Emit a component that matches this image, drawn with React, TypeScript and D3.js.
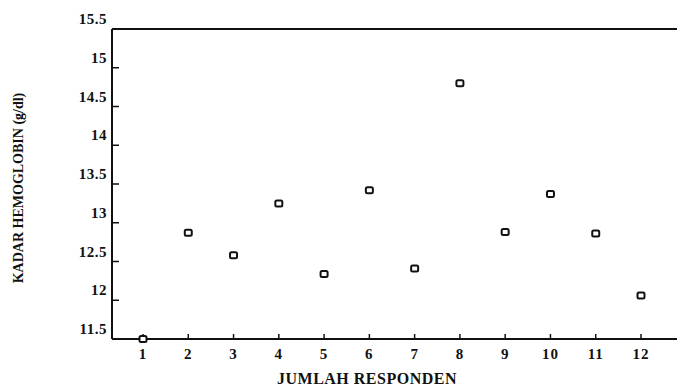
import * as d3 from 'd3'
import { useEffect, useRef } from 'react'

const responden = [1, 2, 3, 4, 5, 6, 7, 8, 9, 10, 11, 12]
const hemoglobin = [11.5, 12.87, 12.58, 13.25, 12.34, 13.42, 12.41, 14.8, 12.88, 13.37, 12.86, 12.06]
const yTicks = [11.5, 12, 12.5, 13, 13.5, 14, 14.5, 15, 15.5]

const App = () => {
    const ref = useRef<SVGSVGElement>(null)

    useEffect(() => {
        const width = 677
        const height = 390
        const left = 112
        const top = 29
        const bottom = 339

        const svg = d3.select(ref.current)
        svg.selectAll('*').remove()
        svg.attr('width', width).attr('height', height)

        const x = d3.scaleLinear().domain([1, 12]).range([143, 641])
        const y = d3.scaleLinear().domain([11.5, 15.5]).range([bottom, top])

        const font = '"Liberation Serif", "DejaVu Serif", serif'

        // axes lines
        svg.append('line')
            .attr('x1', left).attr('x2', left)
            .attr('y1', top).attr('y2', bottom)
            .attr('stroke', '#111').attr('stroke-width', 2)
        svg.append('line')
            .attr('x1', left).attr('x2', width)
            .attr('y1', bottom).attr('y2', bottom)
            .attr('stroke', '#111').attr('stroke-width', 2)
        svg.append('line')
            .attr('x1', left).attr('x2', width)
            .attr('y1', top).attr('y2', top)
            .attr('stroke', '#111').attr('stroke-width', 2)

        // y ticks
        const yt = svg.append('g')
        yt.selectAll('line')
            .data(yTicks.slice(1, -1))
            .join('line')
            .attr('x1', left).attr('x2', left + 7)
            .attr('y1', d => y(d)).attr('y2', d => y(d))
            .attr('stroke', '#111').attr('stroke-width', 1.5)
        yt.selectAll('text')
            .data(yTicks)
            .join('text')
            .attr('x', left - 5)
            .attr('y', d => y(d) - 5)
            .attr('text-anchor', 'end')
            .attr('font-family', font)
            .attr('font-weight', 'bold')
            .attr('font-size', 15)
            .attr('letter-spacing', 0.5)
            .attr('fill', '#111')
            .text(d => String(d))

        // x ticks
        const xt = svg.append('g')
        xt.selectAll('line')
            .data(responden)
            .join('line')
            .attr('x1', d => x(d)).attr('x2', d => x(d))
            .attr('y1', bottom).attr('y2', bottom - 5)
            .attr('stroke', '#111').attr('stroke-width', 1.5)
        xt.selectAll('text')
            .data(responden)
            .join('text')
            .attr('x', d => x(d))
            .attr('y', bottom + 20)
            .attr('text-anchor', 'middle')
            .attr('font-family', font)
            .attr('font-weight', 'bold')
            .attr('font-size', 15)
            .attr('letter-spacing', 1)
            .attr('fill', '#111')
            .text(d => String(d))

        // axis titles
        svg.append('text')
            .attr('x', 367).attr('y', 384)
            .attr('text-anchor', 'middle')
            .attr('font-family', font)
            .attr('font-weight', 'bold')
            .attr('font-size', 16)
            .attr('letter-spacing', 0.5)
            .attr('fill', '#111')
            .text('JUMLAH RESPONDEN')
        svg.append('text')
            .attr('transform', 'translate(23,188) rotate(-90)')
            .attr('text-anchor', 'middle')
            .attr('font-family', font)
            .attr('font-weight', 'bold')
            .attr('font-size', 14)
            .attr('fill', '#111')
            .text('KADAR HEMOGLOBIN (g/dl)')

        // points
        svg.append('g')
            .selectAll('rect')
            .data(responden.map((r, i) => ({ r, v: hemoglobin[i] })))
            .join('rect')
            .attr('x', d => x(d.r) - 3.5)
            .attr('y', d => y(d.v) - 3)
            .attr('width', 7)
            .attr('height', 6)
            .attr('rx', 1.5)
            .attr('fill', '#fff')
            .attr('stroke', '#111')
            .attr('stroke-width', 2)
    }, [])

    return (
        <svg ref={ref} style={{ position: 'absolute', left: 0, top: 0, background: '#fff' }}></svg>
    )
}

export default App
